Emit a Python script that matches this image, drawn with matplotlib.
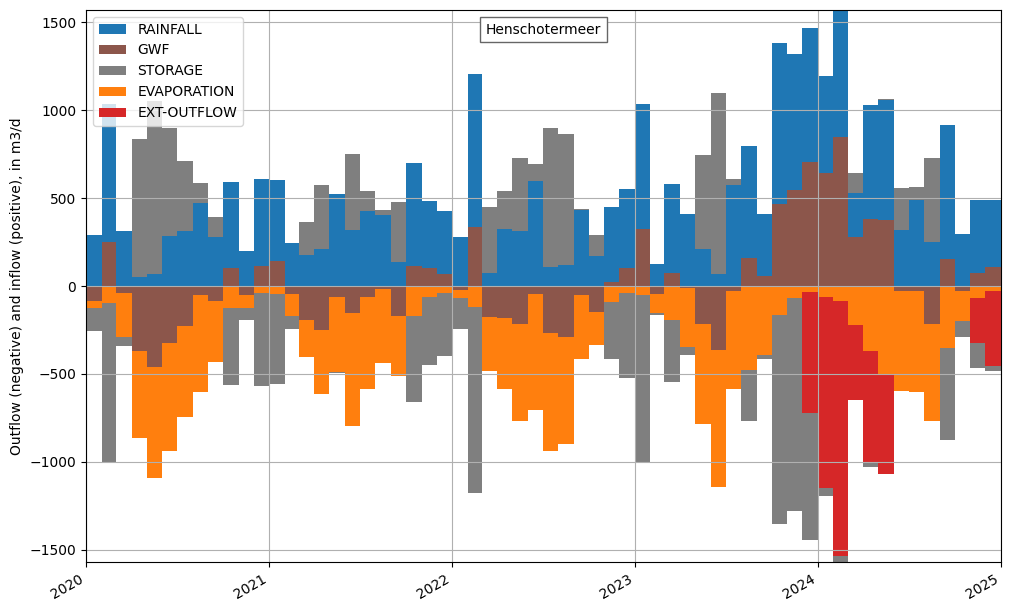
import numpy as np
import pandas as pd
import matplotlib
matplotlib.use("Agg")
import matplotlib.pyplot as plt
import matplotlib.dates as mdates
from matplotlib.offsetbox import AnchoredText
from matplotlib.patches import Patch

months = pd.date_range("2020-01-01", periods=60, freq="MS")

rainfall = [292, 788, 315, 49, 70, 287, 311, 475, 281, 493, 197, 499,
            465, 247, 178, 213, 526, 321, 429, 406, 135, 586, 385, 363,
            281, 871, 76, 326, 315, 600, 110, 121, 435, 173, 431, 450,
            712, 127, 507, 412, 213, 70, 577, 638, 353, 917, 774, 763,
            552, 730, 254, 649, 683, 316, 492, 252, 763, 298, 419, 380]
gwf = [-83, 249, -37, -368, -459, -322, -226, -54, -83, 101, -54, 112,
       140, -44, -192, -253, -60, -151, -60, -15, -168, 116, 101, 66,
       -20, 338, -174, -180, -219, -43, -265, -288, -54, -146, 21, 104,
       326, -44, 76, -14, -214, -362, -27, 161, 59, 469, 549, 708,
       641, 850, 277, 384, 373, -26, -31, -214, 151, -31, 73, 107]
storage = [-135, -905, -46, 790, 985, 615, 402, 114, 114, -438, -68, -535,
           -512, -74, 188, 364, -6, 433, 114, 28, 345, -495, -387, -359,
           -177, -1059, 376, 216, 416, 97, 791, 746, 6, 120, -325, -484,
           -945, -11, -353, -46, 530, 1031, 34, -290, -28, -1190, -1207, -723,
           -46, -34, 114, -23, 11, 239, 74, 478, -524, -91, -142, -27]
evaporation = [-40, -94, -256, -499, -636, -615, -522, -547, -347, -123, -74, -37,
               -48, -129, -214, -363, -431, -647, -524, -425, -345, -168, -65, -37,
               -46, -117, -311, -404, -552, -660, -672, -609, -359, -188, -89, -37,
               -54, -108, -192, -333, -569, -780, -558, -476, -390, -163, -71, -32,
               -60, -83, -220, -368, -499, -569, -575, -552, -351, -171, -71, -31]
ext_outflow = [0] * 47 + [-689, -1088, -1452, -427, -638, -569,
                          0, 0, 0, 0, 0, -256, -427]

series = {
    "RAINFALL": rainfall,
    "GWF": gwf,
    "STORAGE": storage,
    "EVAPORATION": evaporation,
    "EXT-OUTFLOW": ext_outflow,
}
colors = {
    "RAINFALL": "tab:blue",
    "GWF": "tab:brown",
    "STORAGE": "tab:gray",
    "EVAPORATION": "tab:orange",
    "EXT-OUTFLOW": "tab:red",
}
stack_order = ["GWF", "RAINFALL", "EVAPORATION", "EXT-OUTFLOW", "STORAGE"]
legend_order = ["RAINFALL", "GWF", "STORAGE", "EVAPORATION", "EXT-OUTFLOW"]

fig = plt.figure(figsize=(10.11, 6.11), dpi=100)
ax = fig.add_axes([86 / 1011, 1 - 562 / 611, (1001 - 86) / 1011, (562 - 10) / 611])

left = mdates.date2num(months)
right = mdates.date2num(months + pd.offsets.MonthBegin(1))
width = right - left

pos_bottom = np.zeros(len(months))
neg_bottom = np.zeros(len(months))
for name in stack_order:
    v = np.asarray(series[name], dtype=float)
    bottom = np.where(v >= 0, pos_bottom, neg_bottom)
    ax.bar(left, v, width=width, bottom=bottom, align="edge",
           color=colors[name], linewidth=0)
    pos_bottom += np.where(v > 0, v, 0)
    neg_bottom += np.where(v < 0, v, 0)

ax.xaxis_date()
ax.xaxis.set_major_locator(mdates.YearLocator())
ax.xaxis.set_major_formatter(mdates.DateFormatter("%Y"))
ax.set_xlim(mdates.date2num(pd.Timestamp("2020-01-01")),
            mdates.date2num(pd.Timestamp("2025-01-01")))
ax.set_ylim(-1571, 1571)
ax.grid(True)
ax.set_ylabel("Outflow (negative) and inflow (positive), in m3/d")

for lbl in ax.get_xticklabels():
    lbl.set_rotation(30)
    lbl.set_horizontalalignment("right")

handles = [Patch(facecolor=colors[n], label=n) for n in legend_order]
ax.legend(handles=handles, loc="upper left")

at = AnchoredText("Henschotermeer", loc="upper center", prop=dict(size=10))
at.patch.set_edgecolor("0.4")
ax.add_artist(at)

fig.savefig("out.png", dpi=100)
